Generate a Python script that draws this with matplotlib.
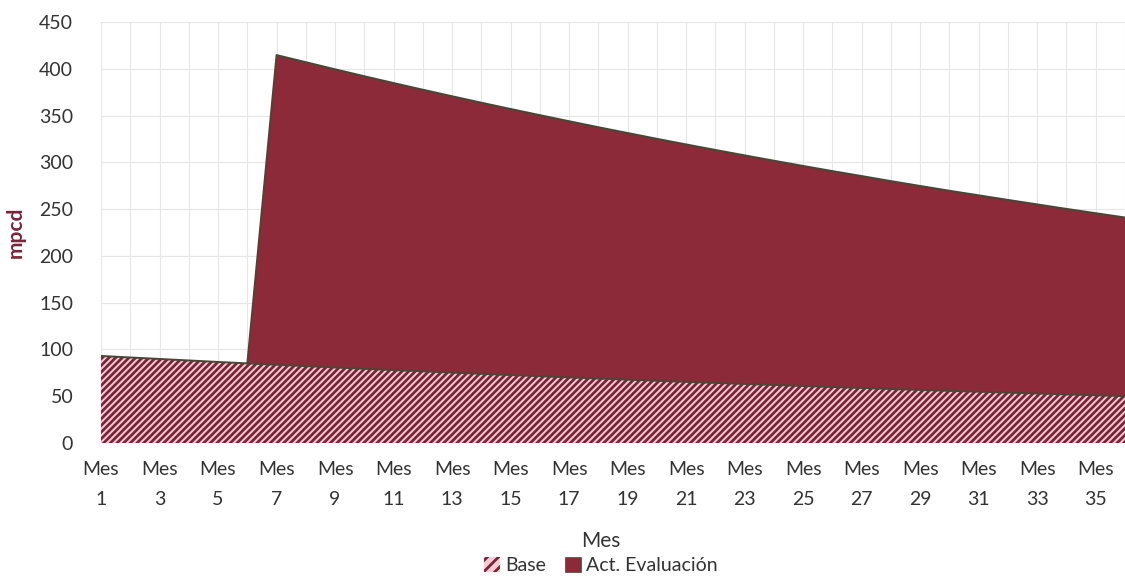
import matplotlib
matplotlib.use("Agg")
import matplotlib.pyplot as plt
from matplotlib.patches import Patch

plt.rcParams['font.family'] = ['Lato', 'DejaVu Sans']
plt.rcParams['hatch.linewidth'] = 2.0

months = list(range(1, 37))
base = [93.0, 91.4, 89.8, 88.2, 86.6, 85.1, 83.6, 82.2, 80.7, 79.3, 77.9, 76.6,
        75.2, 73.9, 72.6, 71.4, 70.1, 68.9, 67.7, 66.5, 65.3, 64.2, 63.1, 62.0,
        60.9, 59.8, 58.8, 57.7, 56.7, 55.7, 54.8, 53.8, 52.9, 51.9, 51.0, 50.1]
act = [0, 0, 0, 0, 0, 0, 331.0, 324.8, 318.7, 312.7, 306.8, 301.0,
       295.4, 289.8, 284.4, 279.0, 273.8, 268.6, 263.6, 258.6, 253.8, 249.0, 244.3, 239.7,
       235.2, 230.8, 226.5, 222.2, 218.0, 213.9, 209.9, 206.0, 202.1, 198.3, 194.6, 190.9]
tick_months = list(range(1, 37, 2))
tick_labels = [f"Mes\n{m}" for m in tick_months]
series_names = ["Base", "Act. Evaluación"]

act_color = '#8c2a3a'
hatch_color = '#7b2338'
hatch_bg = '#f6cdd6'
edge_color = '#4a4636'

fig = plt.figure(figsize=(11.25, 5.78), dpi=100)
ax = fig.add_axes([0.0898, 0.2336, 0.9102, 0.7284])

top = [b + a for b, a in zip(base, act)]
ax.fill_between(months, 0, base, facecolor=hatch_bg, edgecolor=hatch_color,
                hatch='/////', linewidth=0, zorder=2)
ax.fill_between(months, base, top, facecolor=act_color, linewidth=0, zorder=2)
ax.plot(months, base, color=edge_color, lw=1.4, zorder=3)
act_start = 5
ax.plot(months[act_start:], top[act_start:], color=edge_color, lw=1.4, zorder=3)

ax.set_xlim(1, 36)
ax.set_ylim(0, 450)
ax.set_yticks(range(0, 451, 50))
ax.set_xticks(tick_months)
ax.set_xticklabels(tick_labels, fontsize=14, color='#333333', linespacing=1.95)
ax.set_xticks(months, minor=True)
ax.tick_params(axis='y', labelsize=14, labelcolor='#333333', length=0, pad=20)
ax.tick_params(axis='x', which='both', length=0, pad=13)
ax.grid(True, which='both', color='#e6e6e6', lw=0.8, zorder=0)
for s in ax.spines.values():
    s.set_visible(False)
ax.set_axisbelow(True)

ax.set_ylabel('mpcd', fontsize=15, fontweight='bold', color='#7b2338')
ax.yaxis.set_label_coords(-0.074, 0.5)
fig.text(0.534, 0.064, 'Mes', ha='center', va='center', fontsize=15, color='#333333')

handles = [Patch(facecolor=hatch_bg, edgecolor=hatch_color, hatch='///', lw=0),
           Patch(facecolor=act_color, edgecolor=edge_color, lw=0.5)]
fig.legend(handles, series_names, loc='center', bbox_to_anchor=(0.534, 0.021),
           ncol=2, frameon=False, fontsize=14, handlelength=0.8, handleheight=0.8,
           handletextpad=0.25, columnspacing=1.0, labelcolor='#333333')

fig.savefig('out.png', dpi=100)
